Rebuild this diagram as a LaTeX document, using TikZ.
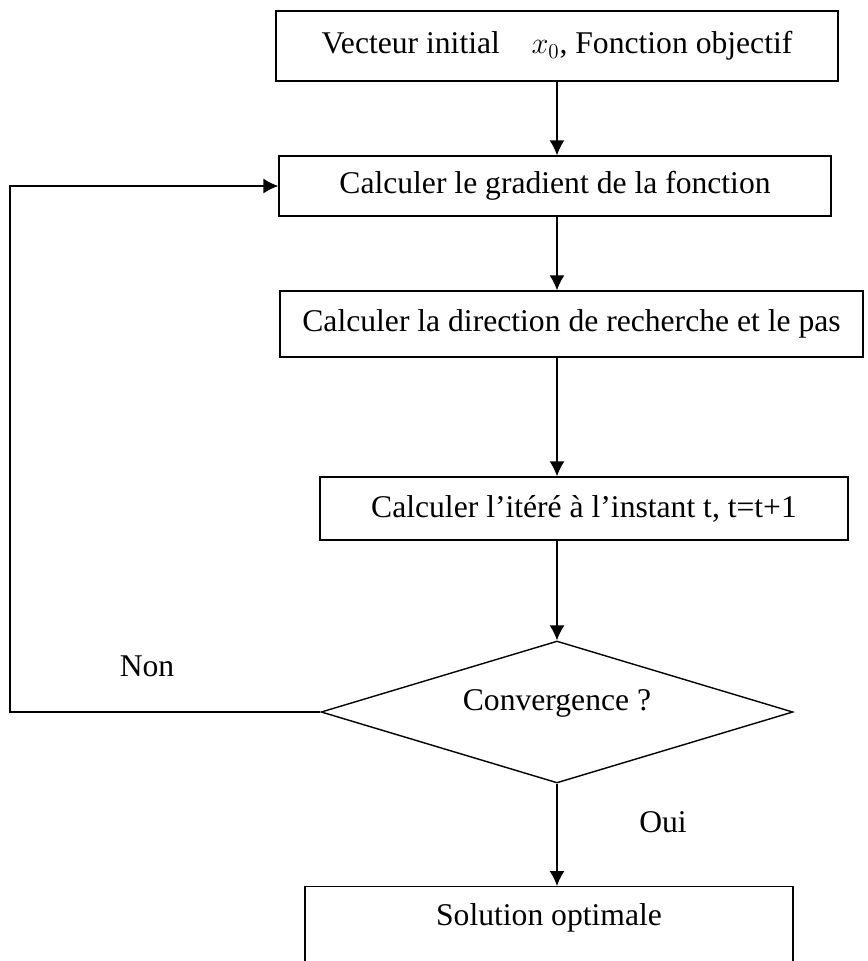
\documentclass[tikz,border=0pt]{standalone}
\usepackage{fontspec}
\setmainfont{Liberation Serif}
\usetikzlibrary{shapes.geometric,arrows.meta}

\begin{document}
\begin{tikzpicture}[x=0.02cm,y=-0.02cm,
  every node/.style={font=\fontsize{18}{22}\selectfont},
  box/.style={draw,line width=0.8pt,inner sep=0pt},
  test/.style={draw,diamond,aspect=3.32,line width=0.8pt,inner sep=0pt},
  arr/.style={-{Latex[length=0.3cm,width=0.3cm]},line width=0.8pt}]
  \useasboundingbox (0,0) rectangle (868,961);
  \node[box,minimum width=11.24cm,minimum height=1.4cm] (init) at (557,46) {Vecteur initial\quad $x_0$, Fonction objectif};
  \node[box,minimum width=11.04cm,minimum height=1.2cm] (grad) at (555,186) {Calculer le gradient de la fonction};
  \node[box,minimum width=11.66cm,minimum height=1.32cm] (dir) at (571.5,324) {Calculer la direction de recherche et le pas};
  \node[box,minimum width=10.56cm,minimum height=1.26cm] (iter) at (584,508.5) {Calculer l’itéré à l’instant t, t=t+1};
  \node[test,minimum width=9.44cm,minimum height=2.84cm,text height=12pt,text depth=14pt] (conv) at (557,712) {Convergence ?};
  \node[box,anchor=north,minimum width=9.76cm,inner ysep=0pt,text height=0.78cm,text depth=2cm] (sol) at (549,886) {Solution optimale};
  \node (non) at (147,666) {Non};
  \node (oui) at (663,822) {Oui};
  \coordinate (ret) at (10,0);
  % fleches
  \draw[arr] (init.south -| conv.north) -- (grad.north -| conv.north);
  \draw[arr] (grad.south -| conv.north) -- (dir.north -| conv.north);
  \draw[arr] (dir.south -| conv.north) -- (iter.north -| conv.north);
  \draw[arr] (iter.south -| conv.north) -- (conv.north);
  \draw[arr] (conv.south) -- (sol.north -| conv.south);
  \draw[arr] (conv.west) -- (conv.west -| ret) |- (grad.west);
\end{tikzpicture}
\end{document}
